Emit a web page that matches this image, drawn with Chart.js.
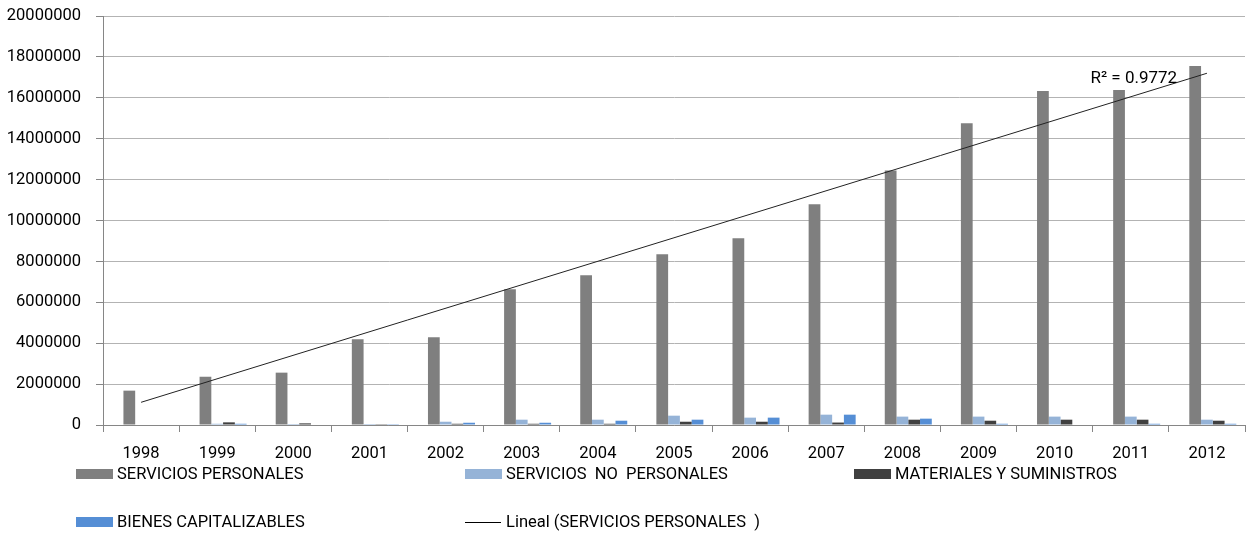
<!DOCTYPE html>
<html>
<head>
<meta charset="utf-8">
<script src="https://cdn.jsdelivr.net/npm/chart.js@4.4.0/dist/chart.umd.min.js"></script>
<style>
  html, body { margin: 0; padding: 0; background: #fff; }
  #wrap { width: 1246px; height: 533px; position: relative; }
</style>
</head>
<body>
<div id="wrap"><canvas id="myChart"></canvas></div>
<script>
// values
const years = ['1998', '1999', '2000', '2001', '2002', '2003', '2004', '2005', '2006', '2007', '2008', '2009', '2010', '2011', '2012'];
const serviciosPersonales = [1680000, 2360000, 2560000, 4190000, 4290000, 6640000, 7320000, 8350000, 9130000, 10790000, 12450000, 14750000, 16330000, 16380000, 17550000];
const serviciosNoPersonales = [0, 60000, 50000, 50000, 160000, 260000, 260000, 456000, 360000, 505000, 410000, 410000, 410000, 410000, 260000];
const materialesSuministros = [0, 130000, 80000, 40000, 60000, 60000, 60000, 160000, 160000, 120000, 260000, 210000, 260000, 260000, 210000];
const bienesCapitalizables = [0, 60000, 0, 40000, 110000, 110000, 210000, 260000, 360000, 505000, 310000, 60000, 0, 60000, 60000];
// linear trend line, as drawn: value at first and last year
const trendStart = 1110000;
const trendEnd = 17200000;
const rSquaredLabel = 'R\u00b2 = 0.9772';
const yTicks = [0, 2000000, 4000000, 6000000, 8000000, 10000000, 12000000, 14000000, 16000000, 18000000, 20000000];

const FONT = 'Roboto, sans-serif';
const trendData = years.map((y, i) => i === 0 ? trendStart : (i === years.length - 1 ? trendEnd : null));

const legendItems = [
  { text: 'SERVICIOS PERSONALES', color: '#7f7f7f', x: 76, y: 474 },
  { text: 'SERVICIOS  NO  PERSONALES', color: '#95b3d7', x: 465, y: 474 },
  { text: 'MATERIALES Y SUMINISTROS', color: '#404040', x: 854, y: 474 },
  { text: 'BIENES CAPITALIZABLES', color: '#558ed5', x: 76, y: 522 },
  { text: 'Lineal (SERVICIOS PERSONALES  )', color: '#000', x: 465, y: 522, line: true }
];

// custom legend + R² label
const extras = {
  id: 'extras',
  afterDraw(chart) {
    const ctx = chart.ctx;
    ctx.save();
    ctx.font = '16.5px ' + FONT;
    ctx.textBaseline = 'middle';
    ctx.fillStyle = '#000';
    legendItems.forEach(item => {
      if (item.line) {
        ctx.strokeStyle = item.color;
        ctx.lineWidth = 1;
        ctx.beginPath();
        ctx.moveTo(item.x, item.y + 0.5);
        ctx.lineTo(item.x + 36, item.y + 0.5);
        ctx.stroke();
      } else {
        ctx.fillStyle = item.color;
        ctx.fillRect(item.x, item.y - 5, 37, 10);
      }
      ctx.fillStyle = '#000';
      ctx.fillText(item.text, item.x + 41, item.y + 1);
    });
    // R² label near the end of the trend line
    const xs = chart.scales.x, ys = chart.scales.y;
    ctx.font = '17px ' + FONT;
    ctx.textAlign = 'center';
    ctx.fillText(rSquaredLabel, xs.getPixelForValue(13) + 3, ys.getPixelForValue(17000000) + 1);
    ctx.restore();
  }
};

const ctx = document.getElementById('myChart').getContext('2d');
const myChart = new Chart(ctx, {
  type: 'bar',
  data: {
    labels: years,
    datasets: [
      {
        type: 'line',
        label: 'Lineal (SERVICIOS PERSONALES  )',
        data: trendData,
        spanGaps: true,
        borderColor: '#222',
        borderWidth: 1,
        pointRadius: 0,
        order: -1
      },
      { label: '', data: years.map(() => null), backgroundColor: 'transparent' }, // empty slot, as in the original
      { label: 'SERVICIOS PERSONALES', data: serviciosPersonales, backgroundColor: '#7f7f7f' },
      { label: 'SERVICIOS  NO  PERSONALES', data: serviciosNoPersonales, backgroundColor: '#95b3d7' },
      { label: 'MATERIALES Y SUMINISTROS', data: materialesSuministros, backgroundColor: '#404040' },
      { label: 'BIENES CAPITALIZABLES', data: bienesCapitalizables, backgroundColor: '#558ed5' }
    ]
  },
  options: {
    responsive: true,
    maintainAspectRatio: false,
    animation: false,
    datasets: {
      bar: { categoryPercentage: 0.772, barPercentage: 1, borderWidth: 0 }
    },
    layout: { padding: { top: 16, right: 1, left: 0, bottom: 0 } },
    scales: {
      x: {
        grid: {
          display: true,
          drawOnChartArea: false,
          offset: true,
          tickLength: 7,
          color: '#868686'
        },
        border: { color: '#868686' },
        ticks: {
          color: '#000',
          font: { family: FONT, size: 16.5 },
          padding: 12,
          maxRotation: 0
        },
        afterFit: s => { s.height = 108; s.paddingLeft = 0; s.paddingRight = 0; }
      },
      y: {
        min: 0,
        max: 20000000,
        afterBuildTicks: s => { s.ticks = yTicks.map(v => ({ value: v })); },
        grid: { color: '#b3b3b3', tickLength: 7, tickColor: '#868686' },
        border: { color: '#868686' },
        ticks: {
          color: '#000',
          font: { family: FONT, size: 16.5 },
          padding: 15,
          callback: v => String(v)
        },
        afterFit: s => { s.width = 103; s.paddingTop = 0; s.paddingBottom = 0; }
      }
    },
    plugins: {
      legend: { display: false },
      tooltip: { enabled: false }
    }
  },
  plugins: [extras]
});
</script>
</body>
</html>
